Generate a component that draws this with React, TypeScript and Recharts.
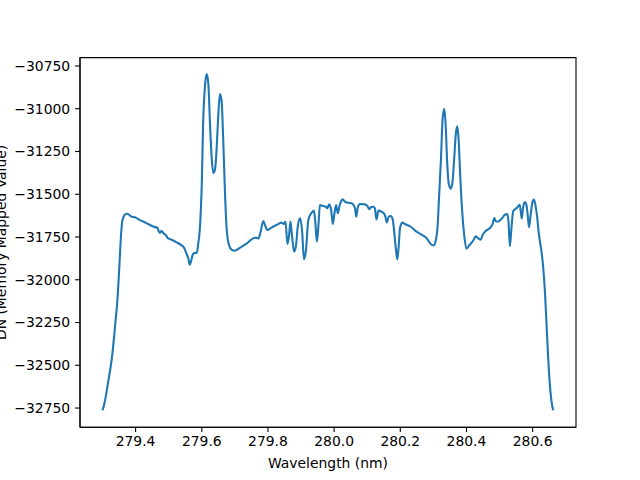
import { Line, LineChart, ReferenceArea, XAxis, YAxis } from 'recharts';

// wavelength (nm) and DN values
const wavelength = [
  279.300, 279.305, 279.317, 279.330, 279.338, 279.345, 279.351, 279.356, 279.360, 279.366,
  279.373, 279.381, 279.388, 279.398, 279.413, 279.434, 279.453, 279.466, 279.470, 279.474,
  279.478, 279.484, 279.492, 279.497, 279.509, 279.524, 279.539, 279.547, 279.554, 279.559,
  279.564, 279.568, 279.573, 279.579, 279.585, 279.589, 279.595, 279.600, 279.604, 279.610,
  279.615, 279.620, 279.625, 279.630, 279.635, 279.640, 279.645, 279.650, 279.655, 279.660,
  279.665, 279.670, 279.675, 279.682, 279.690, 279.700, 279.715, 279.736, 279.761, 279.771,
  279.778, 279.786, 279.791, 279.798, 279.811, 279.826, 279.841, 279.848, 279.853, 279.859,
  279.864, 279.868, 279.873, 279.879, 279.885, 279.890, 279.897, 279.903, 279.909, 279.915,
  279.922, 279.932, 279.939, 279.943, 279.948, 279.953, 279.957, 279.967, 279.975, 279.979,
  279.985, 279.991, 279.996, 280.001, 280.006, 280.011, 280.017, 280.026, 280.033, 280.043,
  280.053, 280.063, 280.067, 280.071, 280.078, 280.093, 280.101, 280.106, 280.111, 280.118,
  280.123, 280.128, 280.134, 280.143, 280.150, 280.155, 280.159, 280.165, 280.171, 280.177,
  280.182, 280.187, 280.191, 280.195, 280.199, 280.206, 280.214, 280.234, 280.249, 280.259,
  280.279, 280.294, 280.301, 280.307, 280.313, 280.317, 280.323, 280.328, 280.333, 280.337,
  280.342, 280.347, 280.353, 280.358, 280.363, 280.368, 280.372, 280.376, 280.381, 280.387,
  280.393, 280.400, 280.410, 280.420, 280.428, 280.435, 280.443, 280.449, 280.459, 280.471,
  280.479, 280.484, 280.489, 280.496, 280.506, 280.516, 280.523, 280.527, 280.531, 280.536,
  280.541, 280.549, 280.556, 280.561, 280.567, 280.571, 280.576, 280.581, 280.585, 280.589,
  280.594, 280.600, 280.604, 280.609, 280.614, 280.618, 280.622, 280.627, 280.632, 280.637,
  280.642, 280.647, 280.652, 280.657, 280.662,
];

const dn = [
  -32763, -32730, -32600, -32430, -32270, -32120, -31920, -31740, -31655, -31623,
  -31614, -31620, -31631, -31635, -31651, -31670, -31688, -31697, -31717, -31725,
  -31713, -31728, -31740, -31756, -31766, -31781, -31799, -31814, -31849, -31873,
  -31912, -31888, -31853, -31843, -31843, -31795, -31678, -31444, -31093, -30859,
  -30797, -30859, -31093, -31288, -31376, -31356, -31230, -31035, -30914, -30956,
  -31190, -31483, -31697, -31795, -31824, -31830, -31813, -31787, -31754, -31758,
  -31719, -31656, -31680, -31709, -31695, -31680, -31666, -31674, -31660, -31791,
  -31738, -31660, -31748, -31836, -31797, -31690, -31641, -31709, -31880, -31826,
  -31651, -31608, -31596, -31660, -31777, -31670, -31563, -31569, -31573, -31582,
  -31559, -31592, -31674, -31611, -31563, -31611, -31563, -31530, -31544, -31550,
  -31553, -31582, -31631, -31582, -31557, -31559, -31569, -31588, -31576, -31573,
  -31582, -31647, -31596, -31602, -31611, -31631, -31666, -31631, -31627, -31647,
  -31729, -31826, -31880, -31807, -31699, -31666, -31674, -31693, -31719, -31730,
  -31756, -31795, -31799, -31772, -31678, -31522, -31288, -31054, -31000, -31093,
  -31327, -31444, -31467, -31424, -31288, -31142, -31103, -31171, -31386, -31600,
  -31737, -31818, -31795, -31772, -31746, -31756, -31766, -31737, -31713, -31697,
  -31674, -31639, -31659, -31659, -31643, -31620, -31616, -31659, -31804, -31697,
  -31600, -31585, -31571, -31561, -31643, -31580, -31545, -31561, -31620, -31693,
  -31620, -31541, -31531, -31571, -31639, -31720, -31775, -31840, -31930, -32068,
  -32263, -32458, -32614, -32711, -32763,
];

const xTicks = [279.4, 279.6, 279.8, 280.0, 280.2, 280.4, 280.6];
const yTicks = [-30750, -31000, -31250, -31500, -31750, -32000, -32250, -32500, -32750];

const X_DOMAIN: [number, number] = [279.232, 280.731];
const Y_DOMAIN: [number, number] = [-32862, -30701];

const FONT = '"DejaVu Sans", sans-serif';
const FS = 13.9;

const data = wavelength.map((w, i) => ({ w, dn: dn[i] }));

const fmtY = (v: number) => (v < 0 ? `\u2212${Math.abs(v)}` : `${v}`);

export default function App() {
  return (
    <div style={{ position: 'absolute', left: 0, top: 0, width: 640, height: 480, background: '#fff' }}>
      <LineChart width={640} height={480} data={data}
        margin={{ top: 57.6, right: 64, bottom: 0, left: 0 }}>
        <XAxis dataKey="w" type="number" domain={X_DOMAIN} ticks={xTicks} allowDataOverflow
          tickFormatter={(v: number) => v.toFixed(1)} height={52.8}
          tick={{ fill: '#000', fontSize: FS, fontFamily: FONT }}
          tickSize={4.9} tickMargin={4} stroke="#000" strokeWidth={1.1}
          label={{
            content: () => (
              <text x={328} y={468} textAnchor="middle" fill="#000" fontSize={FS} fontFamily={FONT}>
                Wavelength (nm)
              </text>
            ),
          }} />
        <YAxis type="number" domain={Y_DOMAIN} ticks={yTicks} allowDataOverflow width={80}
          tickFormatter={fmtY}
          tick={{ fill: '#000', fontSize: FS, fontFamily: FONT }}
          tickSize={4.9} tickMargin={4.9} stroke="#000" strokeWidth={1.1}
          label={{
            content: () => (
              <text x={5.7} y={242.4} transform="rotate(-90 5.7 242.4)" textAnchor="middle"
                fill="#000" fontSize={FS} fontFamily={FONT}>
                DN (Memory Mapped Value)
              </text>
            ),
          }} />
        <ReferenceArea x1={X_DOMAIN[0]} x2={X_DOMAIN[1]} y1={Y_DOMAIN[0]} y2={Y_DOMAIN[1]}
          fill="none" fillOpacity={0} stroke="#000" strokeWidth={1.1} strokeOpacity={1} />
        <Line type="monotone" dataKey="dn" stroke="#1f77b4" strokeWidth={2.1} dot={false}
          isAnimationActive={false} />
      </LineChart>
    </div>
  );
}
